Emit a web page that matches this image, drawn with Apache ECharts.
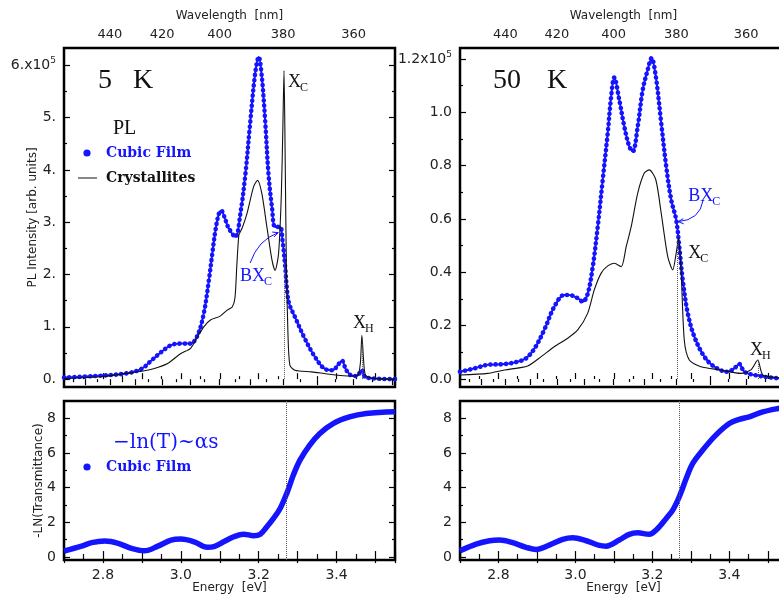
<!DOCTYPE html>
<html><head><meta charset="utf-8">
<script src="https://cdn.jsdelivr.net/npm/echarts@6/dist/echarts.min.js"></script>
<style>html,body{margin:0;padding:0;background:#fff}#c{width:779px;height:597px}</style>
</head><body><div id="c"></div>
<script>
// ---------------- data ----------------
// 5 K photoluminescence, cubic film (units of 1e5)
const pl5K_cubic_E = [2.70,2.78,2.86,2.90,2.925,2.95,2.975,3.00,3.025,3.043,3.059,3.072,3.081,3.089,3.098,3.104,3.112,3.122,3.14,3.153,3.166,3.178,3.191,3.20,3.208,3.217,3.225,3.234,3.242,3.255,3.261,3.268,3.272,3.278,3.293,3.318,3.344,3.369,3.391,3.403,3.414,3.425,3.442,3.454,3.464,3.475,3.55];
const pl5K_cubic_I = [0.03,0.06,0.11,0.20,0.36,0.52,0.65,0.68,0.68,0.84,1.26,1.89,2.41,2.85,3.17,3.22,3.10,2.90,2.72,3.17,3.93,4.89,5.85,6.16,5.78,4.89,3.93,3.29,2.91,2.91,2.66,2.15,1.76,1.45,1.19,0.78,0.43,0.20,0.17,0.27,0.35,0.17,0.06,0.07,0.17,0.03,0.00];
// 5 K photoluminescence, crystallites
const pl5K_cryst_E = [2.70,2.80,2.86,2.90,2.93,2.966,3.00,3.025,3.043,3.059,3.076,3.10,3.119,3.132,3.139,3.144,3.149,3.153,3.158,3.17,3.187,3.197,3.208,3.221,3.234,3.242,3.251,3.258,3.262,3.265,3.268,3.271,3.275,3.28,3.293,3.336,3.386,3.437,3.454,3.461,3.465,3.469,3.474,3.49,3.55];
const pl5K_cryst_I = [0.01,0.05,0.11,0.15,0.20,0.30,0.49,0.59,0.81,1.00,1.13,1.20,1.32,1.38,1.55,2.20,2.75,2.82,2.90,3.17,3.68,3.80,3.55,2.91,2.28,2.08,2.40,3.50,4.80,5.90,4.20,2.20,0.90,0.27,0.17,0.14,0.09,0.06,0.07,0.30,0.84,0.40,0.08,0.02,0.00];
// 50 K photoluminescence, cubic film
const pl50K_cubic_E = [2.70,2.738,2.772,2.816,2.85,2.872,2.894,2.919,2.945,2.971,2.984,3.006,3.019,3.032,3.045,3.058,3.071,3.084,3.093,3.101,3.114,3.127,3.14,3.149,3.162,3.175,3.188,3.198,3.209,3.223,3.236,3.249,3.262,3.27,3.279,3.292,3.309,3.335,3.361,3.396,3.413,3.426,3.439,3.465,3.525,3.55];
const pl50K_cubic_I = [0.027,0.04,0.053,0.056,0.065,0.078,0.115,0.184,0.271,0.315,0.315,0.303,0.29,0.32,0.42,0.57,0.747,0.922,1.06,1.13,1.047,0.947,0.872,0.853,0.947,1.084,1.16,1.203,1.134,0.96,0.797,0.672,0.597,0.496,0.371,0.247,0.159,0.084,0.046,0.027,0.04,0.056,0.027,0.015,0.003,0.002];
// 50 K photoluminescence, crystallites
const pl50K_cryst_E = [2.70,2.772,2.816,2.876,2.911,2.945,2.98,3.006,3.032,3.049,3.067,3.084,3.101,3.119,3.132,3.145,3.162,3.179,3.192,3.209,3.223,3.24,3.253,3.262,3.268,3.275,3.283,3.296,3.326,3.378,3.43,3.456,3.474,3.487,3.525,3.55];
const pl50K_cryst_I = [0.015,0.021,0.034,0.049,0.084,0.121,0.153,0.184,0.247,0.334,0.397,0.424,0.434,0.421,0.496,0.571,0.697,0.772,0.784,0.747,0.622,0.459,0.409,0.472,0.528,0.397,0.146,0.071,0.046,0.034,0.021,0.034,0.071,0.015,0.005,0.004];
// absorption -ln(T), cubic film (left: 5 K, right: 50 K)
const abs5K_E = [2.70,2.745,2.771,2.805,2.839,2.873,2.907,2.941,2.975,3.00,3.034,3.068,3.085,3.11,3.136,3.161,3.187,3.204,3.221,3.238,3.255,3.272,3.289,3.306,3.331,3.357,3.391,3.433,3.476,3.55];
const abs5K_A = [0.35,0.63,0.83,0.92,0.79,0.50,0.36,0.63,0.98,1.04,0.88,0.56,0.60,0.88,1.17,1.32,1.23,1.32,1.75,2.23,2.80,3.67,4.73,5.59,6.46,7.13,7.70,8.08,8.28,8.38];
const abs50K_E = [2.70,2.742,2.777,2.803,2.837,2.872,2.898,2.932,2.967,2.993,3.028,3.062,3.08,3.114,3.14,3.162,3.192,3.21,3.236,3.253,3.27,3.288,3.305,3.331,3.365,3.40,3.426,3.452,3.487,3.527,3.55];
const abs50K_A = [0.36,0.75,0.94,0.98,0.83,0.56,0.44,0.69,1.02,1.11,0.94,0.67,0.63,0.98,1.31,1.40,1.31,1.56,2.23,2.71,3.48,4.53,5.40,6.17,7.03,7.70,7.94,8.09,8.37,8.57,8.65];

// exciton energies marked by dotted lines, and the levels they are drawn up to
const xcEnergy = 3.266;
const xcLine5K = 2.2;
const xcLine50K = 0.52;
const xhEnergy5K = 3.465, xhLine5K = 0.8;
const xhEnergy50K = 3.474, xhLine50K = 0.068;

// tick labels
const energyRange = [2.7, 3.55];
const wavelengthLabels = [440, 420, 400, 380, 360];
const wavelengthMajor = [450, 440, 430, 420, 410, 400, 390, 380, 370, 360, 350];
const wavelengthMinor = [455, 445, 435, 425, 415, 405, 395, 385, 375, 365, 355];
const pl5KTicks = [0, 1, 2, 3, 4, 5, 6];
const pl5KMinor = [0.5, 1.5, 2.5, 3.5, 4.5, 5.5];
const pl50KTicks = [0, 0.2, 0.4, 0.6, 0.8, 1.0, 1.2];
const pl50KMinor = [0.1, 0.3, 0.5, 0.7, 0.9, 1.1];
const absTicks = [0, 2, 4, 6, 8];
const absMinor = [1, 3, 5, 7];

// ---------------- chart ----------------
const HC = 1239.84;
const BLUE = '#1414ff';
const TXT = '#222';
const SANS = 'DejaVu Sans';
const SERIF = 'Liberation Serif';

const frame = {show: true, borderColor: '#000', borderWidth: 2.5, containLabel: false, outerBoundsMode: 'none'};
const grids = [
  Object.assign({left: 64, top: 48, width: 331, height: 339}, frame),
  Object.assign({left: 460, top: 48, width: 327, height: 339}, frame),
  Object.assign({left: 64, top: 401, width: 331, height: 159}, frame),
  Object.assign({left: 460, top: 401, width: 327, height: 159}, frame)
];

const xAxes = [], yAxes = [];
const tickStyle = {color: '#000', width: 1.2};
const nameStyle = {fontSize: 12, fontFamily: SANS, color: TXT};
function zip(a, b) { return a.map((x, i) => [x, b[i]]); }

function energyAxis(g, pos, labels, name) {
  xAxes.push({
    type: 'value', gridIndex: g, position: pos, min: energyRange[0], max: energyRange[1], interval: 0.1,
    axisLine: {show: false}, splitLine: {show: false},
    axisTick: {show: true, inside: true, length: 6, lineStyle: tickStyle},
    minorTick: {show: true, splitNumber: 2, length: 3, lineStyle: tickStyle},
    axisLabel: {show: labels, margin: 8, fontSize: 14, fontFamily: SANS, color: TXT,
      formatter: v => { const r = Math.round(v * 10); return (Math.abs(v * 10 - r) < 0.01 && r % 2 === 0) ? (r / 10).toFixed(1) : ''; }},
    name: name || '', nameLocation: 'middle', nameGap: 22, nameMoveOverlap: false,
    nameTextStyle: nameStyle
  });
  return xAxes.length - 1;
}
function wavelengthAxes(g) {
  xAxes.push({
    type: 'value', gridIndex: g, position: 'top', min: energyRange[0], max: energyRange[1],
    axisLine: {show: false}, splitLine: {show: false},
    axisTick: {show: true, inside: true, length: 6, lineStyle: tickStyle, customValues: wavelengthMajor.map(l => HC / l)},
    axisLabel: {show: true, margin: 7, fontSize: 13, fontFamily: SANS, color: TXT,
      customValues: wavelengthLabels.map(l => HC / l), formatter: v => String(Math.round(HC / v))},
    name: 'Wavelength  [nm]', nameLocation: 'middle', nameGap: 26, nameMoveOverlap: false,
    nameTextStyle: nameStyle
  });
  xAxes.push({
    type: 'value', gridIndex: g, position: 'top', min: energyRange[0], max: energyRange[1],
    axisLine: {show: false}, splitLine: {show: false},
    axisTick: {show: true, inside: true, length: 3, lineStyle: tickStyle, customValues: wavelengthMinor.map(l => HC / l)},
    axisLabel: {show: false}
  });
}
function valueAxes(g, min, max, major, minor, fmt, name, nameGap) {
  const idx = yAxes.length;
  ['left', 'right'].forEach(pos => {
    yAxes.push({
      type: 'value', gridIndex: g, position: pos, min: min, max: max,
      axisLine: {show: false}, splitLine: {show: false},
      axisTick: {show: true, inside: true, length: 6, lineStyle: tickStyle, customValues: major},
      axisLabel: {show: pos === 'left', margin: 8, fontSize: 14, fontFamily: SANS, color: TXT,
        customValues: major, formatter: fmt,
        rich: {a: {fontSize: 14, fontFamily: SANS, color: TXT},
               s: {fontSize: 9, fontFamily: SANS, color: TXT, padding: [0, 0, 9, 0]}}},
      name: pos === 'left' ? name : '', nameLocation: 'middle', nameGap: nameGap, nameMoveOverlap: false,
      nameTextStyle: nameStyle
    });
    yAxes.push({
      type: 'value', gridIndex: g, position: pos, min: min, max: max,
      axisLine: {show: false}, splitLine: {show: false},
      axisTick: {show: true, inside: true, length: 3, lineStyle: tickStyle, customValues: minor},
      axisLabel: {show: false}
    });
  });
  return idx;
}

// grid 0: 5 K PL
const x0 = energyAxis(0, 'bottom', false);
wavelengthAxes(0);
const y0 = valueAxes(0, -0.15, 6.33, pl5KTicks, pl5KMinor,
  v => v === 6 ? '{a|6.x10}{s|5}' : v + '.', 'PL Intensity [arb. units]', 25);
// grid 1: 50 K PL
const x1 = energyAxis(1, 'bottom', false);
wavelengthAxes(1);
const y1 = valueAxes(1, -0.03, 1.241, pl50KTicks, pl50KMinor,
  v => Math.abs(v - 1.2) < 1e-6 ? '{a|1.2x10}{s|5}' : v.toFixed(1), '', 30);
// grid 2: 5 K absorption
const x2 = energyAxis(2, 'bottom', true, 'Energy  [eV]');
energyAxis(2, 'top', false);
const y2 = valueAxes(2, -0.17, 9.0, absTicks, absMinor, v => String(v), '-LN(Transmittance)', 19);
// grid 3: 50 K absorption
const x3 = energyAxis(3, 'bottom', true, 'Energy  [eV]');
energyAxis(3, 'top', false);
const y3 = valueAxes(3, -0.17, 9.0, absTicks, absMinor, v => String(v), '', 26);

const dotted = {type: 'dotted', color: '#555', width: 1};
function segments(list) {
  return {symbol: ['none', 'none'], silent: true, label: {show: false}, lineStyle: dotted, animation: false,
    data: list.map(s => [{coord: [s[0], 0]}, {coord: [s[0], s[1]]}])};
}
const xcFull = {symbol: ['none', 'none'], silent: true, label: {show: false}, lineStyle: dotted, animation: false,
  data: [{xAxis: xcEnergy}]};

function cubicDots(x, y, data, extra) {
  return Object.assign({type: 'line', name: 'Cubic Film', xAxisIndex: x, yAxisIndex: y, data: data,
    showSymbol: false, smooth: 0.35, z: 3,
    lineStyle: {color: BLUE, width: 4.6, type: [0.01, 5.2], cap: 'round', join: 'round'}}, extra || {});
}
function cubicCore(x, y, data) {
  return {type: 'line', name: 'Cubic Film', xAxisIndex: x, yAxisIndex: y, data: data,
    showSymbol: false, smooth: 0.35, z: 3, lineStyle: {color: BLUE, width: 2}};
}
function cryst(x, y, data, extra) {
  return Object.assign({type: 'line', name: 'Crystallites', xAxisIndex: x, yAxisIndex: y, data: data,
    showSymbol: false, smooth: 0.25, z: 4,
    lineStyle: {color: '#111', width: 1.1}}, extra || {});
}

const pl5KCubic = zip(pl5K_cubic_E, pl5K_cubic_I);
const pl50KCubic = zip(pl50K_cubic_E, pl50K_cubic_I);
const series = [
  cubicCore(x0, y0, pl5KCubic),
  cubicDots(x0, y0, pl5KCubic),
  cryst(x0, y0, zip(pl5K_cryst_E, pl5K_cryst_I), {markLine: segments([[xcEnergy, xcLine5K], [xhEnergy5K, xhLine5K]])}),
  cubicCore(x1, y1, pl50KCubic),
  cubicDots(x1, y1, pl50KCubic),
  cryst(x1, y1, zip(pl50K_cryst_E, pl50K_cryst_I), {markLine: segments([[xcEnergy, xcLine50K], [xhEnergy50K, xhLine50K]])}),
  cubicDots(x2, y2, zip(abs5K_E, abs5K_A), {lineStyle: {color: BLUE, width: 5.5}, markLine: xcFull}),
  cubicDots(x3, y3, zip(abs50K_E, abs50K_A), {lineStyle: {color: BLUE, width: 5.5}, markLine: xcFull})
];

const chart = echarts.init(document.getElementById('c'), null, {renderer: 'canvas'});
chart.setOption({
  animation: false,
  backgroundColor: '#fff',
  grid: grids,
  xAxis: xAxes,
  yAxis: yAxes,
  series: series
});

// ---------------- annotations ----------------
function px(g, E, v) { return chart.convertToPixel({gridIndex: g}, [E, v]); }
const G = [];
function text(x, y, str, style) {
  G.push({type: 'text', x: x, y: y, silent: true, z: 50,
    style: Object.assign({text: str, fill: '#111', font: '18px ' + SERIF, textVerticalAlign: 'middle'}, style)});
}
function subLabel(g, E, v, main, sub, color) {
  const p = px(g, E, v);
  const c = color || '#111';
  G.push({type: 'text', x: p[0], y: p[1], silent: true, z: 50,
    style: {text: main, fill: c, font: '18px ' + SERIF, textVerticalAlign: 'middle'}});
  const mw = main.length * 12;
  G.push({type: 'text', x: p[0] + mw, y: p[1] + 6, silent: true, z: 50,
    style: {text: sub, fill: c, font: '12px ' + SERIF, textVerticalAlign: 'middle'}});
}
function arrow(g, s, c, e, color) {
  const a = px(g, s[0], s[1]), b = px(g, c[0], c[1]), d = px(g, e[0], e[1]);
  G.push({type: 'bezierCurve', silent: true, z: 50,
    shape: {x1: a[0], y1: a[1], cpx1: b[0], cpy1: b[1], x2: d[0], y2: d[1]},
    style: {stroke: color, lineWidth: 1, fill: null}});
  const ang = Math.atan2(d[1] - b[1], d[0] - b[0]);
  const L = 6, sp = 0.45;
  G.push({type: 'polyline', silent: true, z: 50,
    shape: {points: [[d[0] - L * Math.cos(ang - sp), d[1] - L * Math.sin(ang - sp)], d,
                     [d[0] - L * Math.cos(ang + sp), d[1] - L * Math.sin(ang + sp)]]},
    style: {stroke: color, lineWidth: 1, fill: null}});
}

// panel titles and legends (layout positions)
const BIG = '28px ' + SERIF;
text(98, 81, '5', {font: BIG});
text(133, 81, 'K', {font: BIG});
text(493, 81, '50', {font: BIG});
text(547, 81, 'K', {font: BIG});
text(113, 129, 'PL', {font: '20px ' + SERIF});
const LEG = 'bold 14px DejaVu Serif';
G.push({type: 'circle', shape: {cx: 87, cy: 153, r: 3.6}, style: {fill: BLUE}, silent: true, z: 50});
text(106, 153, 'Cubic Film', {fill: BLUE, font: LEG});
G.push({type: 'line', shape: {x1: 78, y1: 178, x2: 97, y2: 178}, style: {stroke: '#111', lineWidth: 1}, silent: true, z: 50});
text(106, 178, 'Crystallites', {fill: '#111', font: LEG});
text(113, 443, '\u2212ln(T)~\u03b1s', {fill: BLUE, font: '20px DejaVu Serif'});
G.push({type: 'circle', shape: {cx: 87, cy: 467, r: 3.6}, style: {fill: BLUE}, silent: true, z: 50});
text(106, 467, 'Cubic Film', {fill: BLUE, font: LEG});

// peak labels (anchored in data coordinates)
subLabel(0, 3.275, 5.68, 'X', 'C');
subLabel(0, 3.152, 1.97, 'BX', 'C', BLUE);
arrow(0, [3.178, 2.22], [3.198, 2.66], [3.250, 2.80], BLUE);
subLabel(0, 3.442, 1.07, 'X', 'H');
subLabel(1, 3.293, 0.686, 'BX', 'C', BLUE);
arrow(1, [3.332, 0.671], [3.324, 0.596], [3.267, 0.59], BLUE);
subLabel(1, 3.293, 0.472, 'X', 'C');
subLabel(1, 3.454, 0.109, 'X', 'H');

chart.setOption({graphic: {elements: G}});
</script></body></html>
